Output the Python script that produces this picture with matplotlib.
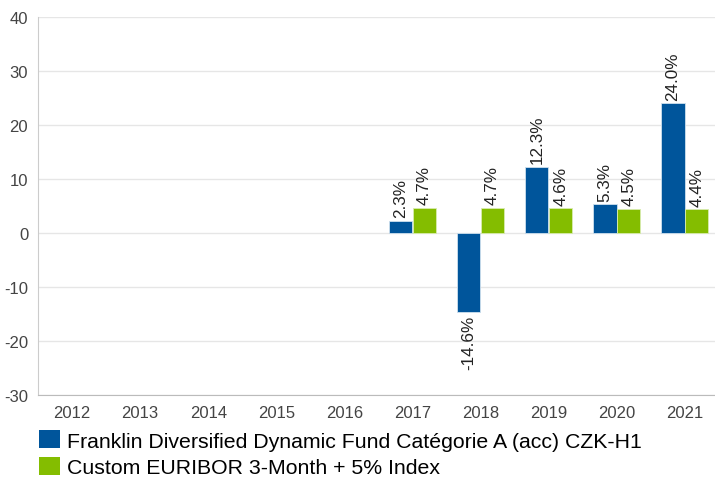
import matplotlib
matplotlib.use("Agg")
import matplotlib.pyplot as plt
import numpy as np
from matplotlib.patches import Patch

plt.rcParams['font.family'] = ['Liberation Sans', 'DejaVu Sans']
plt.rcParams['axes.unicode_minus'] = False

years = ['2012', '2013', '2014', '2015', '2016', '2017', '2018', '2019', '2020', '2021']
fund = [None, None, None, None, None, 2.3, -14.6, 12.3, 5.3, 24.0]
index = [None, None, None, None, None, 4.7, 4.7, 4.6, 4.5, 4.4]
series_names = ['Franklin Diversified Dynamic Fund Catégorie A (acc) CZK-H1',
                'Custom EURIBOR 3-Month + 5% Index']
colors = ['#00559b', '#84bd00']

fig = plt.figure(figsize=(7.15, 4.81), dpi=100)
ax = fig.add_axes([0.0531, 0.1767, 0.9525, 0.786])

x = np.arange(len(years))
w = 0.34
for i, (vals, col) in enumerate(zip([fund, index], colors)):
    off = (i - 0.5) * (w + 0.01)
    for xi, v in zip(x, vals):
        if v is None:
            continue
        ax.bar(xi + off, v, width=w, color=col, edgecolor='#cfe0ee' if i == 0 else '#d8ecb0', linewidth=0.6, zorder=3)
        if v >= 0:
            ax.text(xi + off, v + 0.6, f'{v:.1f}%', rotation=90, ha='center', va='bottom', fontsize=12.3, color='#222222')
        else:
            ax.text(xi + off, v - 0.6, f'{v:.1f}%', rotation=90, ha='center', va='top', fontsize=12.3, color='#222222')

ax.set_xlim(-0.5, len(years) - 0.5)
ax.set_ylim(-30, 40)
ax.set_yticks(range(-30, 41, 10))
ax.set_xticks(x)
ax.set_xticklabels(years)
ax.grid(axis='y', color='#e6e6e6', linewidth=1, zorder=0)
for s in ['top', 'right']:
    ax.spines[s].set_visible(False)
ax.spines['left'].set_color('#cccccc')
ax.spines['bottom'].set_color('#bbbbbb')
ax.tick_params(axis='both', length=0, labelsize=12, colors='#444444', pad=7)
ax.tick_params(axis='y', pad=7)

handles = [Patch(facecolor=c, edgecolor='none') for c in colors]
fig.legend(handles, series_names, loc='upper left', bbox_to_anchor=(39 / 715, 1 - 431 / 481), frameon=False,
           fontsize=15.3, handlelength=1.0, handleheight=0.96, handletextpad=0.34, labelspacing=0.3,
           borderaxespad=0, borderpad=0)

fig.savefig('out.png', dpi=100)
